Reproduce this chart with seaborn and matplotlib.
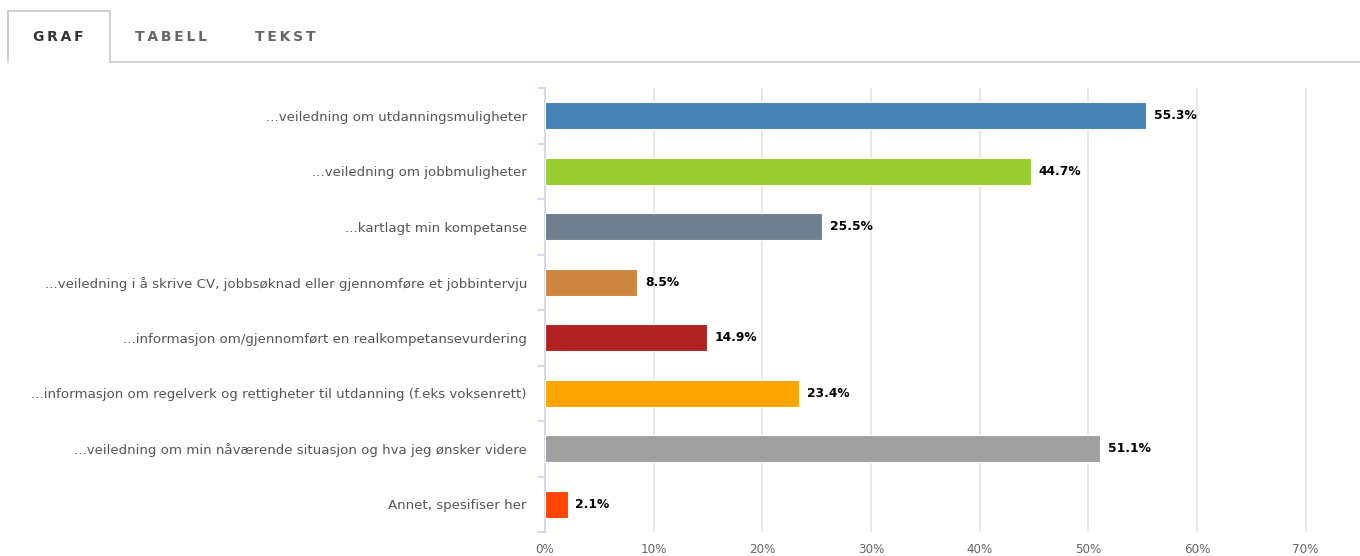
import pandas as pd
import seaborn as sns
import matplotlib.pyplot as plt
from matplotlib.ticker import FuncFormatter

# data
categories = [
    "...veiledning om utdanningsmuligheter",
    "...veiledning om jobbmuligheter",
    "...kartlagt min kompetanse",
    "...veiledning i å skrive CV, jobbsøknad eller gjennomføre et jobbintervju",
    "...informasjon om/gjennomført en realkompetansevurdering",
    "...informasjon om regelverk og rettigheter til utdanning (f.eks voksenrett)",
    "...veiledning om min nåværende situasjon og hva jeg ønsker videre",
    "Annet, spesifiser her",
]
values = [55.3, 44.7, 25.5, 8.5, 14.9, 23.4, 51.1, 2.1]
colors = ["#4682B4", "#9ACD32", "#708090", "#CD853F",
          "#B22222", "#FFA500", "#A0A0A0", "#FF4500"]
x_ticks = [0, 10, 20, 30, 40, 50, 60, 70]

df = pd.DataFrame({"category": categories, "value": values})

sns.set_style("white")
plt.rcParams['font.family'] = ['DejaVu Sans']

fig = plt.figure(figsize=(13.6, 5.56), dpi=100)
ax = fig.add_axes([545 / 1360, 24 / 556, 815 / 1360, 444 / 556])

sns.barplot(data=df, x="value", y="category", hue="category", palette=colors,
            saturation=1, legend=False, width=0.48, ax=ax, zorder=3,
            edgecolor="white", linewidth=0.8)

ax.set_xlim(0, 75)
ax.set_ylim(len(categories) - 0.5, -0.5)
ax.set_xticks(x_ticks)
ax.xaxis.set_major_formatter(FuncFormatter(lambda v, p: f"{v:.0f}%"))
ax.grid(axis="x", color="#e6e6e6", linewidth=1.3, zorder=0)
ax.set_xlabel("")
ax.set_ylabel("")

for s in ["top", "right", "bottom"]:
    ax.spines[s].set_visible(False)
ax.spines["left"].set_color("#ccd6eb")
ax.spines["left"].set_linewidth(1.2)

ax.tick_params(axis="y", length=0, labelsize=9.6, labelcolor="#555555", pad=13)
ax.tick_params(axis="x", length=0, labelsize=9.5, labelcolor="#666666", pad=8)
for lbl in ax.get_xticklabels():
    lbl.set_fontstretch("condensed")

# category boundary ticks on the left axis
for i in range(len(categories) + 1):
    ax.plot([-0.6, 0], [i - 0.5, i - 0.5], color="#ccd6eb", lw=1.2,
            clip_on=False, zorder=4)

for i, v in enumerate(values):
    ax.text(v + 0.7, i, f"{v}%", va="center", ha="left", fontsize=8.8,
            fontweight="bold", color="black")

# tab header
fig.add_artist(plt.Line2D([110 / 1360, 1], [1 - 62 / 556] * 2, color="#c8c8c8", lw=1.2))
fig.add_artist(plt.Line2D([8 / 1360, 110 / 1360, 110 / 1360],
                          [1 - 11 / 556, 1 - 11 / 556, 1 - 62 / 556], color="#c8c8c8", lw=1.2))
fig.add_artist(plt.Line2D([8 / 1360, 8 / 1360],
                          [1 - 11 / 556, 1 - 62 / 556], color="#c8c8c8", lw=1.2))
tabs = [("GRAF", 58, "#333333"), ("TABELL", 171, "#666666"), ("TEKST", 285, "#666666")]
for txt, xp, col in tabs:
    fig.text(xp / 1360, 1 - 37 / 556, "\u2009".join(txt), ha="center",
             va="center", fontsize=10, fontweight="bold", color=col)

fig.savefig("out.png", dpi=100)
